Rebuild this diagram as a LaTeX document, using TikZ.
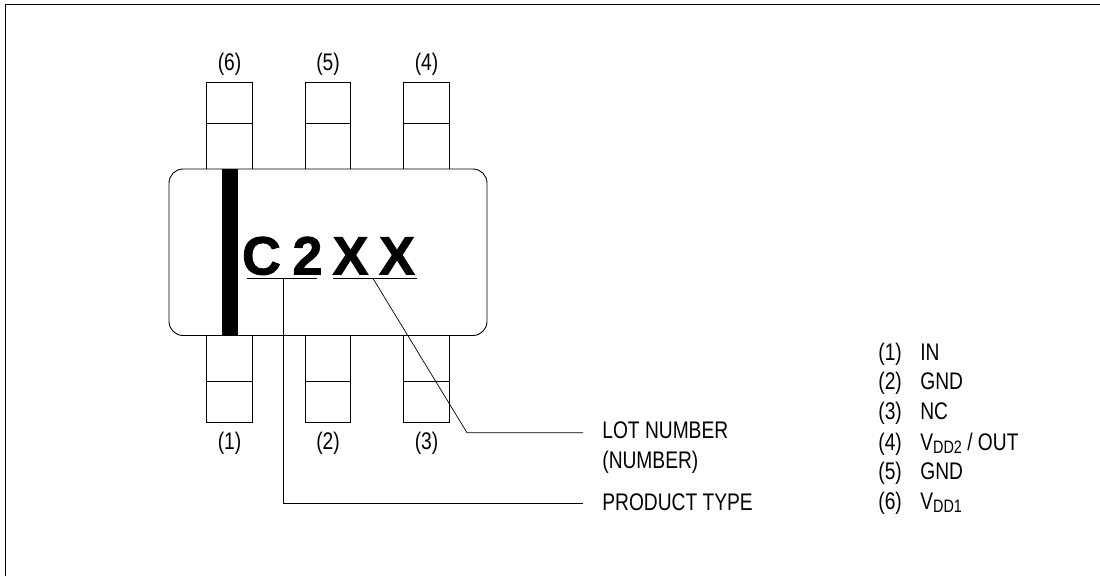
\documentclass[tikz,border=0pt]{standalone}
\usepackage{fontspec}
\setmainfont{Liberation Sans}
\newfontfamily\markfont{Liberation Sans}[BoldFeatures={FakeBold=1.5}]
\newcommand{\pinsub}[1]{\raisebox{-3.5pt}{\fontsize{18}{20}\selectfont #1}}
\usetikzlibrary{positioning,calc}
\tikzset{
    pinlabel/.style={font=\fontsize{24}{28}\selectfont,inner sep=0pt,xscale=0.8},
    notelabel/.style={font=\fontsize{24}{28}\selectfont,inner sep=0pt,anchor=base west,xscale=0.8},
    markchar/.style={font=\fontsize{54}{56}\selectfont\markfont\bfseries,inner sep=0pt,anchor=base}
}
\begin{document}
\begin{tikzpicture}[x=1pt,y=-1pt,line width=0.9pt]
    \useasboundingbox (0,0) rectangle (1100,576);
    % Frame, open at the right and the bottom
    \draw[line width=1.3pt] (5.5,576) -- (5.5,4.5) -- (1100,4.5);

    % Pins on top
    \foreach \x/\n in {229.5/6,328/5,426.5/4}{
        \draw (\x-22.7,169) rectangle (\x+22.7,82.5);
        \draw (\x-22.7,123.5) -- (\x+22.7,123.5);
        \node[pinlabel] (top\n) at (\x,64.5) {(\n)};
    }
    % Pins below
    \foreach \x/\n in {229.5/1,328/2,426.5/3}{
        \draw (\x-22.7,335.5) rectangle (\x+22.7,422.5);
        \draw (\x-22.7,381) -- (\x+22.7,381);
        \node[pinlabel] (bot\n) at (\x,443) {(\n)};
    }

    % Package body
    \draw[fill=white,rounded corners=14pt] (169,169) rectangle (487,335.5);
    \fill (222,169) rectangle (238,335.5);

    % Marking
    \node[markchar] (markc) at (261.5,274.5) {C};
    \node[markchar] (marktwo) at (307.5,274.5) {2};
    \node[markchar] (markxa) at (350.5,274.5) {X};
    \node[markchar] (markxb) at (397,274.5) {X};
    \draw (247,278.5) -- (317,278.5);
    \draw (333,278.5) -- (417,278.5);

    % Leader lines
    \node[notelabel] (lot) at (602,438.5) {LOT NUMBER};
    \node[notelabel] (num) at (602,468) {(NUMBER)};
    \node[notelabel] (type) at (602,510) {PRODUCT TYPE};
    \coordinate (typefoot) at (283.5,278.5);
    \coordinate (lotfoot) at (373,278.5);
    \coordinate (lotbend) at (467,432.7);
    \draw[line width=0.7pt] (typefoot) |- (583,503);
    \draw[line width=0.7pt] (lotfoot) -- (lotbend) -- (583,432.7);

    % Pin list
    \node[notelabel] (nra) at (878,360) {(1)};
    \node[notelabel] (nma) at (920,360) {IN};
    \node[notelabel] (nrb) at (878,389.5) {(2)};
    \node[notelabel] (nmb) at (920,389.5) {GND};
    \node[notelabel] (nrc) at (878,419) {(3)};
    \node[notelabel] (nmc) at (920,419) {NC};
    \node[notelabel] (nrd) at (878,450) {(4)};
    \node[notelabel] (nmd) at (920,450) {V\pinsub{DD2} / OUT};
    \node[notelabel] (nre) at (878,479) {(5)};
    \node[notelabel] (nme) at (920,479) {GND};
    \node[notelabel] (nrf) at (878,509) {(6)};
    \node[notelabel] (nmf) at (920,509) {V\pinsub{DD1}};
\end{tikzpicture}
\end{document}
